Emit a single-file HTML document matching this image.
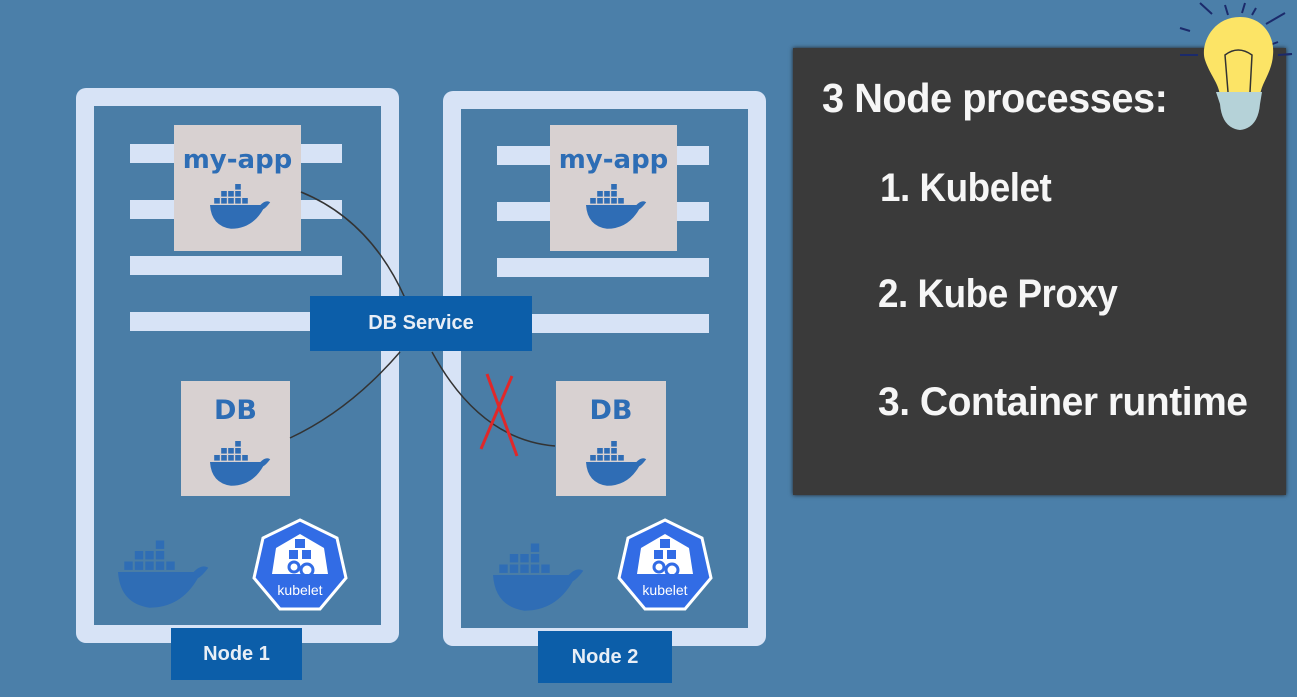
<!DOCTYPE html>
<html><head><meta charset="utf-8"><style>
body{margin:0;width:1297px;height:697px;overflow:hidden;background:#4b7fa9;font-family:"Liberation Sans",sans-serif;position:relative}
.a{position:absolute}
.frame{position:absolute;border:18px solid #d7e3f6;border-radius:10px;background:#4a7da6;box-sizing:border-box}
.bar{position:absolute;background:#d7e3f6;height:19px}
.box{position:absolute;background:#d8d1d1}
.lbl{position:absolute;color:#2d6db5;font-weight:bold;text-align:center;font-family:"DejaVu Sans",sans-serif}
.blue{position:absolute;background:#0c5ea9;color:#e8eef6;font-weight:bold;display:flex;align-items:center;justify-content:center;font-size:20px}
.t{position:absolute;color:#f6f6f6;font-weight:bold;font-size:40px;white-space:nowrap;letter-spacing:-0.5px;transform-origin:left}
</style></head><body>
<div class="frame" style="left:76px;top:88px;width:323px;height:555px"></div>
<div class="frame" style="left:443px;top:91px;width:323px;height:555px"></div>
<div class="bar" style="left:130px;top:144px;width:212px"></div>
<div class="bar" style="left:130px;top:200px;width:212px"></div>
<div class="bar" style="left:130px;top:256px;width:212px"></div>
<div class="bar" style="left:130px;top:312px;width:212px"></div>
<div class="bar" style="left:497px;top:146px;width:212px"></div>
<div class="bar" style="left:497px;top:202px;width:212px"></div>
<div class="bar" style="left:497px;top:258px;width:212px"></div>
<div class="bar" style="left:497px;top:314px;width:212px"></div>
<div class="box" style="left:174px;top:125px;width:127px;height:126px"></div>
<div class="box" style="left:550px;top:125px;width:127px;height:126px"></div>
<div class="box" style="left:181px;top:381px;width:109px;height:115px"></div>
<div class="box" style="left:556px;top:381px;width:110px;height:115px"></div>
<div class="lbl" style="left:174px;top:145px;width:127px;font-size:26px">my-app</div>
<div class="lbl" style="left:550px;top:145px;width:127px;font-size:26px">my-app</div>
<div class="lbl" style="left:181px;top:395px;width:109px;font-size:27px">DB</div>
<div class="lbl" style="left:556px;top:395px;width:110px;font-size:27px">DB</div>
<svg class="a" style="left:0;top:0" width="1297" height="697">
<defs>
<g id="wh"><path d="M-40,0 L32,0 Q40,-8 46,-4 Q40,4 36,6 Q20,34 -10,34 Q-38,30 -40,0Z" fill="#2f6db5"/>
<g fill="#2f6db5"><rect x="-34" y="-10" width="8" height="8"/><rect x="-24" y="-10" width="8" height="8"/><rect x="-14" y="-10" width="8" height="8"/><rect x="-4" y="-10" width="8" height="8"/><rect x="6" y="-10" width="8" height="8"/><rect x="-24" y="-20" width="8" height="8"/><rect x="-14" y="-20" width="8" height="8"/><rect x="-4" y="-20" width="8" height="8"/><rect x="-4" y="-30" width="8" height="8"/></g></g>
<g id="kb"><polygon points="0,-47 37,-29 46,11 20,42 -20,42 -46,11 -37,-29" fill="#326ce5" stroke="#fff" stroke-width="3"/>
<polygon points="0,-33 24,-19 28,7 -28,7 -24,-19" fill="#fff"/>
<rect x="-5" y="-28" width="10" height="9" fill="#326ce5"/><rect x="-11" y="-17" width="9" height="9" fill="#326ce5"/><rect x="2" y="-17" width="9" height="9" fill="#326ce5"/>
<circle cx="-6" cy="0" r="5" fill="none" stroke="#326ce5" stroke-width="3"/><circle cx="7" cy="3" r="6" fill="none" stroke="#326ce5" stroke-width="3"/>
<text x="0" y="28" text-anchor="middle" font-size="14" fill="#fff" font-family="Liberation Sans">kubelet</text></g>
</defs>
<use href="#wh" transform="translate(238,205) scale(0.7)"/>
<use href="#wh" transform="translate(614,205) scale(0.7)"/>
<use href="#wh" transform="translate(238,462) scale(0.7)"/>
<use href="#wh" transform="translate(614,462) scale(0.7)"/>
<use href="#wh" transform="translate(160,572) scale(1.05)"/>
<use href="#wh" transform="translate(535,575) scale(1.05)"/>
<use href="#kb" transform="translate(300,567)"/>
<use href="#kb" transform="translate(665,567)"/>
<path d="M301,192 Q370,220 405,298" fill="none" stroke="#333" stroke-width="1.5"/>
<path d="M290,438 Q350,410 400,352" fill="none" stroke="#333" stroke-width="1.5"/>
<path d="M432,352 Q480,440 555,446" fill="none" stroke="#333" stroke-width="1.5"/>
<path d="M487,374 L517,456 M512,376 L481,449" stroke="#e0282a" stroke-width="3"/>
<g stroke="#1b2a6b" stroke-width="2"><path d="M1200,3 L1212,14 M1225,5 L1228,15 M1245,3 L1242,13 M1256,8 L1252,15 M1285,13 L1266,24 M1180,28 L1190,31 M1278,42 L1270,45 M1180,55 L1198,55 M1280,55 L1292,54 M1200,75 L1210,72 M1270,75 L1262,72"/></g>
</svg>
<div class="blue" style="left:310px;top:296px;width:222px;height:55px">DB Service</div>
<div class="blue" style="left:171px;top:628px;width:131px;height:52px">Node 1</div>
<div class="blue" style="left:538px;top:631px;width:134px;height:52px">Node 2</div>
<div class="a" style="left:793px;top:48px;width:493px;height:447px;background:#3a3a3a;box-shadow:0 0 4px #222"></div>
<svg class="a" style="left:0;top:0" width="1297" height="697">
<path d="M1240,17 C1212,17 1200,45 1205,60 C1210,75 1218,82 1220,95 L1260,95 C1262,82 1272,72 1273,55 C1275,35 1262,17 1240,17Z" fill="#fce466"/>
<path d="M1216,92 L1262,92 L1260,104 Q1258,128 1240,130 Q1222,128 1220,104Z" fill="#b5d2d8"/>
<path d="M1228,92 L1225,55 Q1238,45 1252,55 L1250,92" fill="none" stroke="#333" stroke-width="1.5"/>
<path d="M1180,55 L1198,55 M1278,55 L1292,54" stroke="#1b2a6b" stroke-width="2"/>
</svg>
<div class="t" style="left:822px;top:75px;font-size:41px;transform:scaleX(0.97)">3 Node processes:</div>
<div class="t" style="left:880px;top:166px;transform:scaleX(0.92)">1. Kubelet</div>
<div class="t" style="left:878px;top:272px;transform:scaleX(0.92)">2. Kube Proxy</div>
<div class="t" style="left:878px;top:380px;transform:scaleX(0.975)">3. Container runtime</div>
</body></html>
